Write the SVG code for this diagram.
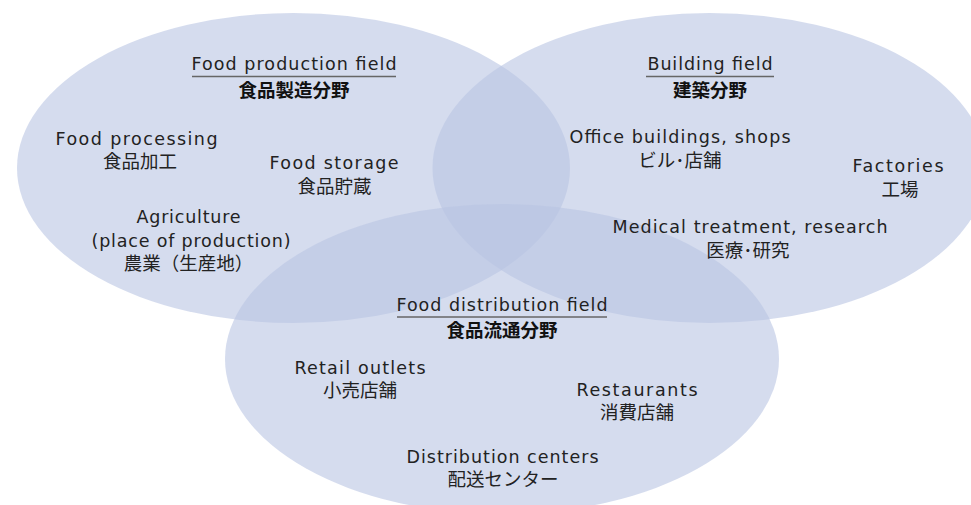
<svg xmlns="http://www.w3.org/2000/svg" width="971" height="505" viewBox="0 0 971 505">
<style>
.field{fill:#b9c4e2;fill-opacity:0.6}
.en{font-family:"DejaVu Sans","Liberation Sans",sans-serif;font-size:17.5px;fill:#222;text-anchor:middle}
.ja{font-family:"Noto Sans CJK JP","Noto Sans",sans-serif;font-size:18.5px;fill:#222;text-anchor:middle}
.jab{font-family:"Noto Sans CJK JP","Noto Sans",sans-serif;font-size:18.5px;font-weight:bold;fill:#111;text-anchor:middle}
.rule{stroke:#666;stroke-width:1.5}
</style>
<rect width="971" height="505" fill="#ffffff"/>
<g id="circles">
<ellipse id="circle-production" class="field" cx="293.5" cy="168" rx="276.5" ry="155"/>
<ellipse id="circle-building" class="field" cx="709.5" cy="168" rx="277" ry="155"/>
<ellipse id="circle-distribution" class="field" cx="502" cy="359" rx="277" ry="155"/>
</g>
<g id="title-production">
<text class="en" x="294" y="70" textLength="205" lengthAdjust="spacing">Food production field</text>
<line class="rule" x1="192" y1="76.5" x2="396" y2="76.5"/>
<text class="jab" x="294" y="97">食品製造分野</text>
</g>
<g id="title-building">
<text class="en" x="710" y="70" textLength="125" lengthAdjust="spacing">Building field</text>
<line class="rule" x1="646" y1="76.5" x2="774" y2="76.5"/>
<text class="jab" x="710" y="97">建築分野</text>
</g>
<g id="title-distribution">
<text class="en" x="502" y="310.5" textLength="211" lengthAdjust="spacing">Food distribution field</text>
<line class="rule" x1="397" y1="317" x2="607" y2="317"/>
<text class="jab" x="502" y="337">食品流通分野</text>
</g>
<g id="food-processing">
<text class="en" x="136.5" y="145" textLength="162" lengthAdjust="spacing">Food processing</text>
<text class="ja" x="140" y="168">食品加工</text>
</g>
<g id="food-storage">
<text class="en" x="334" y="169" textLength="129" lengthAdjust="spacing">Food storage</text>
<text class="ja" x="334.5" y="192.5">食品貯蔵</text>
</g>
<g id="agriculture">
<text class="en" x="188.5" y="223" textLength="104" lengthAdjust="spacing">Agriculture</text>
<text class="en" x="191" y="246.5" textLength="199" lengthAdjust="spacing">(place of production)</text>
<text class="ja" x="188.5" y="270">農業（生産地）</text>
</g>
<g id="office-buildings">
<text class="en" x="680" y="143" textLength="221" lengthAdjust="spacing">Office buildings, shops</text>
<text class="ja" x="680" y="166.7">ビル･店舗</text>
</g>
<g id="factories">
<text class="en" x="898" y="172" textLength="91" lengthAdjust="spacing">Factories</text>
<text class="ja" x="900" y="195.7">工場</text>
</g>
<g id="medical">
<text class="en" x="750" y="233" textLength="275" lengthAdjust="spacing">Medical treatment, research</text>
<text class="ja" x="748" y="256.7">医療･研究</text>
</g>
<g id="retail">
<text class="en" x="360" y="374" textLength="131" lengthAdjust="spacing">Retail outlets</text>
<text class="ja" x="360" y="396.7">小売店舗</text>
</g>
<g id="restaurants">
<text class="en" x="637" y="396" textLength="121" lengthAdjust="spacing">Restaurants</text>
<text class="ja" x="637" y="419">消費店舗</text>
</g>
<g id="distribution-centers">
<text class="en" x="502.5" y="463" textLength="192" lengthAdjust="spacing">Distribution centers</text>
<text class="ja" x="503" y="486">配送センター</text>
</g>
<g id="connectors"/>
</svg>
